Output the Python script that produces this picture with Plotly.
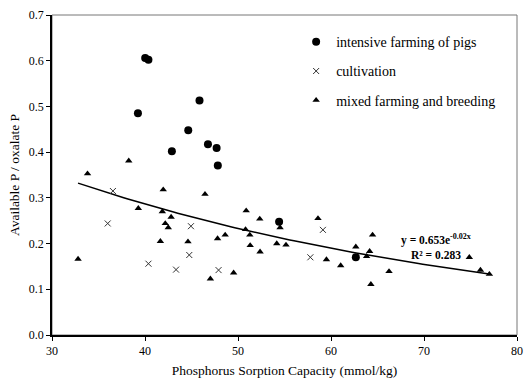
import numpy as np
import plotly.graph_objects as go

# intensive farming of pigs
pigs_x = [40.02, 40.37, 39.24, 45.86, 44.65, 42.89, 46.77, 47.70, 47.83, 54.42, 62.67]
pigs_y = [0.606, 0.602, 0.485, 0.513, 0.448, 0.402, 0.417, 0.409, 0.371, 0.248, 0.170]

# cultivation
cult_x = [36.55, 35.99, 40.37, 43.34, 44.94, 44.76, 47.91, 59.13, 57.78]
cult_y = [0.315, 0.244, 0.156, 0.143, 0.238, 0.175, 0.142, 0.230, 0.170]

# mixed farming and breeding
mixed_x = [33.82, 38.25, 32.80, 39.28, 41.96, 41.86, 42.81, 42.18, 42.50, 41.65,
           44.62, 46.45, 47.03, 47.80, 48.62, 49.53, 50.88, 51.27, 51.31, 52.34,
           52.37, 50.81, 54.52, 54.17, 55.16, 58.60, 59.51, 61.04, 62.67, 63.83,
           64.15, 64.47, 64.29, 66.24, 74.87, 76.07, 77.03]
mixed_y = [0.353, 0.381, 0.166, 0.277, 0.318, 0.270, 0.258, 0.244, 0.235, 0.205,
           0.204, 0.308, 0.123, 0.211, 0.219, 0.136, 0.272, 0.219, 0.196, 0.254,
           0.182, 0.231, 0.235, 0.200, 0.197, 0.255, 0.165, 0.152, 0.193, 0.172,
           0.183, 0.219, 0.111, 0.139, 0.170, 0.142, 0.133]

# trend line y = a * exp(-b x)
trend_a = 0.653
trend_b = 0.0206
trend_range = [32.8, 77.0]

x_ticks = [30, 40, 50, 60, 70, 80]
y_ticks = [0.0, 0.1, 0.2, 0.3, 0.4, 0.5, 0.6, 0.7]

FONT = "Liberation Serif, Times New Roman, DejaVu Serif, serif"

tx = np.linspace(trend_range[0], trend_range[1], 100)
ty = trend_a * np.exp(-trend_b * tx)

fig = go.Figure()
fig.add_trace(go.Scatter(x=tx, y=ty, mode="lines", line=dict(color="black", width=1.5),
                         showlegend=False, hoverinfo="skip"))
fig.add_trace(go.Scatter(x=pigs_x, y=pigs_y, mode="markers", name="intensive farming of pigs",
                         legendgroup="a",
                         marker=dict(symbol="circle", size=8, color="black")))
fig.add_trace(go.Scatter(x=cult_x, y=cult_y, mode="markers", name="cultivation",
                         legendgroup="b",
                         marker=dict(symbol="x-thin-open", size=6, color="#333",
                                     line=dict(width=1, color="#333"))))
fig.add_trace(go.Scatter(x=mixed_x, y=mixed_y, mode="markers", name="mixed farming and breeding",
                         legendgroup="c",
                         marker=dict(symbol="triangle-up", size=6.5, color="black")))

fig.add_annotation(x=71.3, y=0.193, xref="x", yref="y", showarrow=False,
                   text="<b>y = 0.653e<sup>-0.02x</sup></b><br><b>R² = 0.283</b>",
                   font=dict(family=FONT, size=11.5, color="black"), align="center")

fig.add_shape(type="rect", xref="paper", yref="paper", x0=0, y0=0, x1=1, y1=1,
              line=dict(color="#777", width=1), layer="below")

fig.update_layout(
    width=530, height=383,
    margin=dict(l=52, r=7, t=15, b=44),
    paper_bgcolor="white", plot_bgcolor="white",
    font=dict(family=FONT, size=12, color="black"),
    legend=dict(x=0.525, y=0.965, xanchor="left", yanchor="top",
                font=dict(family=FONT, size=14, color="black"),
                bgcolor="rgba(0,0,0,0)", tracegroupgap=8, itemwidth=30),
    xaxis=dict(range=[30, 80], tickvals=x_ticks, showgrid=False, zeroline=False,
               showline=True, linecolor="black", linewidth=1.5,
               ticks="outside", ticklen=4, tickcolor="black",
               title=dict(text="Phosphorus Sorption Capacity (mmol/kg)",
                          font=dict(family=FONT, size=13.5), standoff=8)),
    yaxis=dict(range=[0, 0.7], tickvals=y_ticks, tickformat=".1f", showgrid=False, zeroline=False,
               showline=True, linecolor="black", linewidth=1.5,
               ticks="outside", ticklen=4, tickcolor="black",
               title=dict(text="Available P / oxalate P",
                          font=dict(family=FONT, size=13.5), standoff=6)),
)

fig.write_html("out.html", config={"displayModeBar": False},
               post_script="document.body.style.margin='0';document.body.style.padding='0';")
